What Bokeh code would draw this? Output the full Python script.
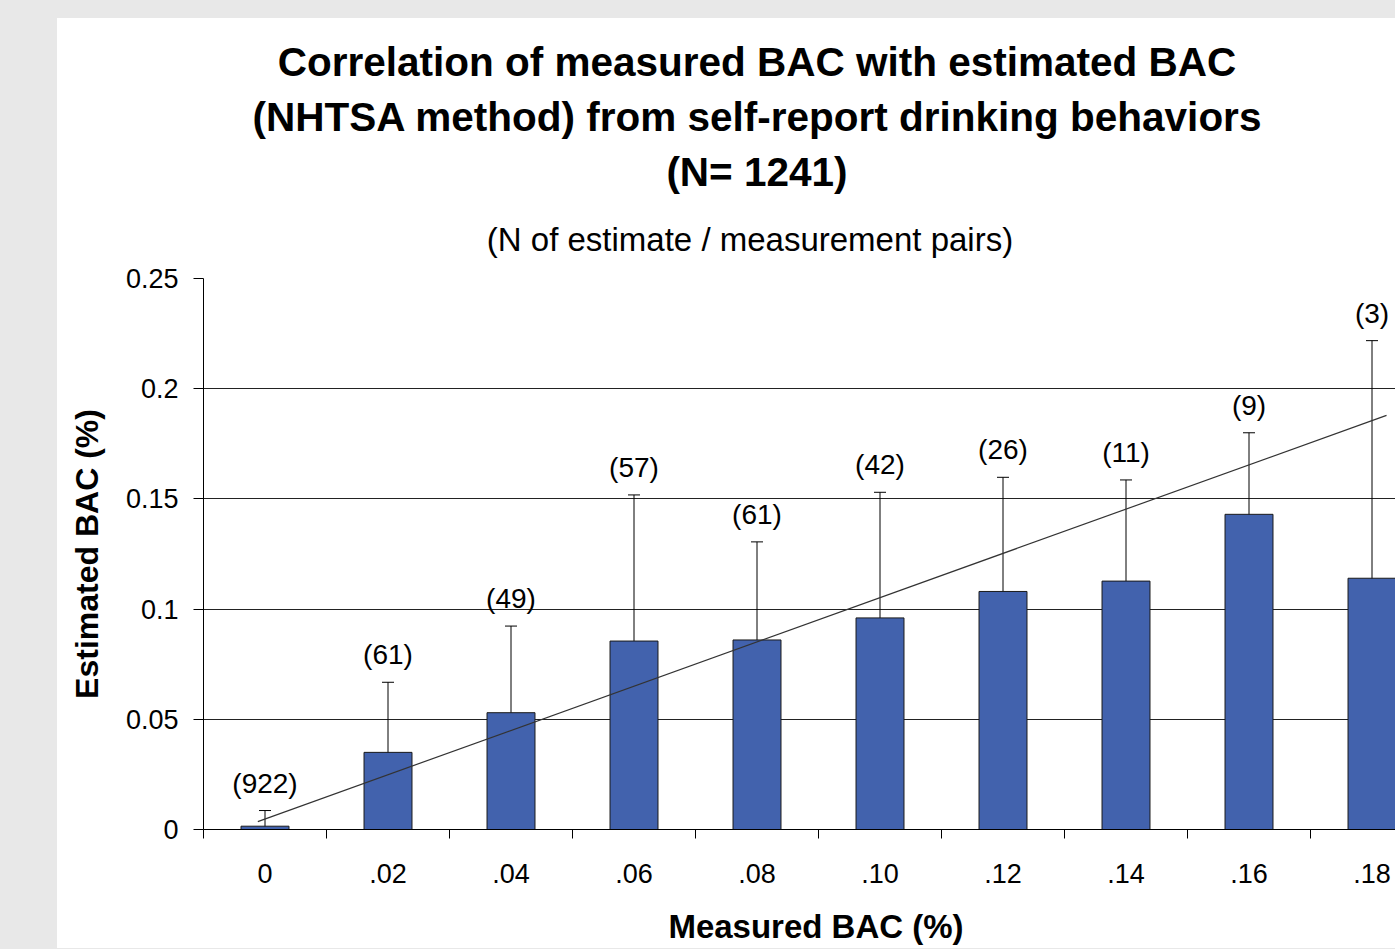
from bokeh.plotting import figure
from bokeh.models import (ColumnDataSource, Range1d, FixedTicker, Whisker, TeeHead, Div,
                          GlobalInlineStyleSheet)
from bokeh.layouts import column
from bokeh.embed import file_html
from bokeh.resources import INLINE
from bokeh.core.properties import value

# ---------------- data ----------------
categories = [0.0, 0.02, 0.04, 0.06, 0.08, 0.10, 0.12, 0.14, 0.16, 0.18]
tick_labels = ["0", ".02", ".04", ".06", ".08", ".10", ".12", ".14", ".16", ".18"]
mean_est = [0.0015, 0.035, 0.053, 0.0855, 0.086, 0.096, 0.108, 0.1127, 0.143, 0.114]
upper_err = [0.0086, 0.0668, 0.0923, 0.1518, 0.1305, 0.153, 0.1598, 0.1586, 0.180, 0.2218]
lower_err = [0.0, 0.0032, 0.0145, 0.018, 0.041, 0.0387, 0.0560, 0.0668, 0.1068, 0.006]
n_pairs = ["(922)", "(61)", "(49)", "(57)", "(61)", "(42)", "(26)", "(11)", "(9)", "(3)"]
trend_x = [-0.00117, 0.18236]
trend_y = [0.0036, 0.1879]
y_ticks = [0, 0.05, 0.1, 0.15, 0.2, 0.25]
y_tick_labels = ["0", "0.05", "0.1", "0.15", "0.2", "0.25"]
boundaries = [-0.01, 0.01, 0.03, 0.05, 0.07, 0.09, 0.11, 0.13, 0.15, 0.17]

title_lines = ["Correlation of measured BAC with estimated BAC",
               "(NHTSA method) from self-report drinking behaviors",
               "(N= 1241)"]
subtitle = "(N of estimate / measurement pairs)"
x_title = "Measured BAC (%)"
y_title = "Estimated BAC (%)"

FONT = "Liberation Sans"
BLUE = "#4262ad"
W = 1338

src = ColumnDataSource(dict(x=categories, top=mean_est, upper=upper_err,
                            lower=lower_err, lab=n_pairs))

# ---------------- titles (top block) ----------------
top_html = (
    f'<div style="width:{W}px;box-sizing:border-box;padding-left:62px;text-align:center;'
    f'font-family:\'{FONT}\';color:black;margin:0;">'
    f'<div style="font-weight:bold;font-size:40.5px;line-height:55px;padding-top:17px;">'
    + "<br>".join(title_lines) +
    '</div>'
    f'<div style="font-size:33px;line-height:40px;padding-top:20px;padding-right:14px;">{subtitle}</div>'
    '</div>'
)
top_div = Div(text=top_html, width=W, height=242, margin=(0, 0, 0, 0))

# ---------------- figure ----------------
p = figure(width=W, height=640, output_backend="svg", toolbar_location=None,
           x_range=Range1d(-0.01, 0.18382), y_range=Range1d(0, 0.25),
           min_border_left=146, min_border_top=18, min_border_bottom=71,
           min_border_right=0)
p.background_fill_color = "white"
p.border_fill_color = "white"
p.outline_line_color = None
p.title.visible = False

p.xgrid.grid_line_color = None
p.ygrid.ticker = FixedTicker(ticks=y_ticks)
p.ygrid.grid_line_color = "#222222"
p.ygrid.grid_line_width = 1

p.vbar(x="x", top="top", width=0.0078, source=src, fill_color=BLUE,
       line_color="#1a1a1a", line_width=1)

w = Whisker(source=src, base="x", upper="upper", lower="lower",
            line_color="black", line_width=1,
            upper_head=TeeHead(size=12, line_color="black", line_width=1),
            lower_head=TeeHead(size=12, line_color="black", line_width=1))
p.add_layout(w)

p.line(trend_x, trend_y, line_color="#333333", line_width=1.2)

p.text(x="x", y="upper", text="lab", source=src, text_align="center",
       text_baseline="bottom", y_offset=-12, text_font=value(FONT),
       text_font_size="28px", text_color="black")

xa = p.xaxis[0]
xa.ticker = FixedTicker(ticks=categories, minor_ticks=boundaries)
xa.major_label_overrides = {c: l for c, l in zip(categories, tick_labels)}
xa.major_tick_out = 0
xa.major_tick_in = 0
xa.minor_tick_out = 9
xa.minor_tick_in = 0
xa.minor_tick_line_color = "black"
xa.axis_line_color = "black"
xa.major_label_standoff = 25
xa.major_label_text_font = FONT
xa.major_label_text_font_size = "27px"
xa.major_label_text_color = "black"

ya = p.yaxis[0]
ya.ticker = FixedTicker(ticks=y_ticks)
ya.major_label_overrides = {t: l for t, l in zip(y_ticks, y_tick_labels)}
ya.major_tick_out = 10
ya.major_tick_in = 0
ya.minor_tick_out = 0
ya.minor_tick_in = 0
ya.major_tick_line_color = "black"
ya.axis_line_color = "black"
ya.major_label_standoff = 15
ya.major_label_text_font = FONT
ya.major_label_text_font_size = "27px"
ya.major_label_text_color = "black"
ya.axis_label = y_title
ya.axis_label_text_font = FONT
ya.axis_label_text_font_size = "32px"
ya.axis_label_text_font_style = "bold"
ya.axis_label_text_color = "black"
ya.axis_label_standoff = 18

# ---------------- x title (bottom block) ----------------
bottom_html = (
    f'<div style="width:{W}px;box-sizing:border-box;padding-left:180px;text-align:center;'
    f'font-family:\'{FONT}\';font-weight:bold;font-size:33px;line-height:40px;'
    f'padding-top:7px;color:black;">{x_title}</div>'
)
bottom_div = Div(text=bottom_html, width=W, height=48, margin=(0, 0, 0, 0))

root = column(top_div, p, bottom_div, spacing=0,
              styles={"background-color": "white"})
root.margin = (18, 0, 0, 57)
root.stylesheets = [GlobalInlineStyleSheet(
    css="html, body { background-color: #e8e8e8 !important; overflow: hidden; }")]

html = file_html(root, INLINE)
html = html.replace("<body>", '<body style="background-color:#e8e8e8;">', 1)
open("out.html", "w").write(html)
